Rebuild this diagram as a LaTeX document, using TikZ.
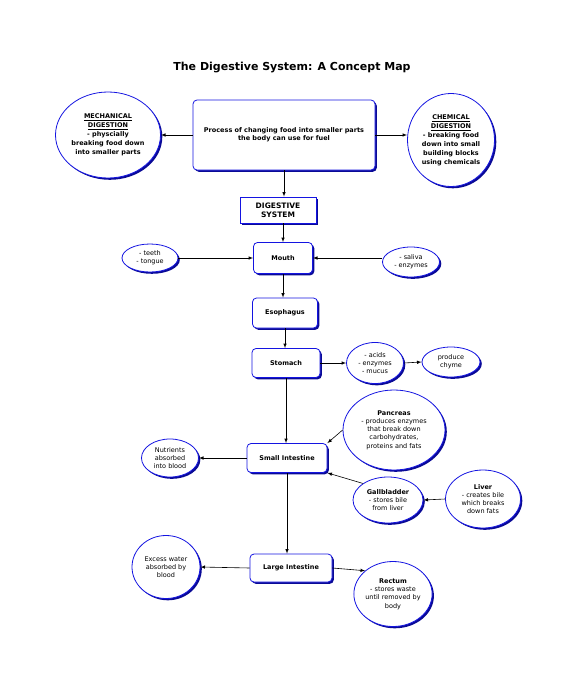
\documentclass[tikz,border=0pt]{standalone}
\usepackage{fontspec}
\setmainfont{DejaVu Sans}
\usetikzlibrary{positioning,shapes.geometric,shadows}

\definecolor{mapblue}{RGB}{20,20,225}
\definecolor{mapshade}{RGB}{10,10,150}

\tikzset{
  mapshadow/.style={drop shadow={shadow xshift=1.8pt, shadow yshift=-1.8pt, fill=mapshade, opacity=1}},
  mapbox/.style={draw=mapblue, line width=0.8pt, fill=white, rounded corners=4pt, mapshadow,
    align=center, font=\fontsize{6.5}{8}\selectfont\bfseries},
  mapoval/.style={ellipse, draw=mapblue, line width=0.8pt, fill=white, mapshadow, inner sep=0pt,
    align=center, font=\fontsize{6.5}{8.2}\selectfont},
  link/.style={-latex, line width=0.6pt, black},
}

\begin{document}
\begin{tikzpicture}[x=1pt, y=-1pt]
  \useasboundingbox (0,0) rectangle (585,685);

  \node[font=\fontsize{11}{13}\selectfont\bfseries] (title) at (292,68) {The Digestive System: A Concept Map};

  % top level
  \node[mapbox, minimum width=182pt, minimum height=70pt] (process) at (284,135)
    {Process of changing food into smaller parts\\the body can use for fuel};
  \node[mapoval, font=\fontsize{6.5}{9}\selectfont\bfseries, minimum width=105pt, minimum height=86pt] (mechanical) at (108,135)
    {\underline{MECHANICAL}\\\underline{DIGESTION}\\- physcially\\breaking food down\\into smaller parts};
  \node[mapoval, font=\fontsize{6.5}{9}\selectfont\bfseries, minimum width=87pt, minimum height=93pt] (chemical) at (451,140)
    {\underline{CHEMICAL}\\\underline{DIGESTION}\\- breaking food\\down into small\\building blocks\\using chemicals};
  \node[mapbox, rounded corners=0pt, minimum width=76pt, minimum height=26pt, font=\fontsize{7.5}{9}\selectfont\bfseries] (system) at (278,210)
    {DIGESTIVE\\SYSTEM};

  % organs
  \node[mapbox, minimum width=59pt, minimum height=31pt] (mouth) at (283,258) {Mouth};
  \node[mapbox, minimum width=65pt, minimum height=30pt] (esophagus) at (285,313) {Esophagus};
  \node[mapbox, minimum width=68pt, minimum height=29pt] (stomach) at (286,363) {Stomach};
  \node[mapbox, minimum width=80pt, minimum height=29pt] (small) at (287,458) {Small Intestine};
  \node[mapbox, minimum width=82pt, minimum height=28pt] (large) at (291,568) {Large Intestine};

  % helpers
  \node[mapoval, minimum width=56pt, minimum height=28pt] (teeth) at (150,258) {- teeth\\- tongue};
  \node[mapoval, minimum width=57pt, minimum height=30pt] (saliva) at (411,262) {- saliva\\- enzymes};
  \node[mapoval, minimum width=57pt, minimum height=41pt] (acids) at (375,363) {- acids\\- enzymes\\- mucus};
  \node[mapoval, minimum width=58pt, minimum height=30pt] (chyme) at (451,362) {produce\\chyme};
  \node[mapoval, minimum width=57pt, minimum height=38pt] (nutrients) at (170,458) {Nutrients\\absorbed\\into blood};
  \node[mapoval, minimum width=102pt, minimum height=80pt] (pancreas) at (394,430)
    {\textbf{Pancreas}\\- produces enzymes\\that break down\\carbohydrates,\\proteins and fats};
  \node[mapoval, minimum width=70pt, minimum height=46pt] (gallbladder) at (388,500)
    {\textbf{Gallbladder}\\- stores bile\\from liver};
  \node[mapoval, minimum width=75pt, minimum height=58pt] (liver) at (483,499)
    {\textbf{Liver}\\- creates bile\\which breaks\\down fats};
  \node[mapoval, minimum width=68pt, minimum height=63pt] (water) at (166,567)
    {Excess water\\absorbed by\\blood};
  \node[mapoval, minimum width=77pt, minimum height=65pt] (rectum) at (393,594)
    {\textbf{Rectum}\\- stores waste\\until removed by\\body};

  % connectors
  \draw[link] (process.west) -- (mechanical.east);
  \draw[link] (process.east) -- (chemical.west |- process.east);
  \draw[link] (process.south) -- (process.south |- system.north);
  \draw[link] (system.south -| mouth.north) -- (mouth.north);
  \draw[link] (teeth.east) -- (mouth.west);
  \draw[link] (saliva.west |- mouth.east) -- (mouth.east);
  \draw[link] (mouth.south) -- (esophagus.north -| mouth.south);
  \draw[link] (esophagus.south) -- (stomach.north -| esophagus.south);
  \draw[link] (stomach.east) -- (acids.west);
  \draw[link] (acids.east) -- (chyme.west);
  \draw[link] (stomach.south) -- (small.north -| stomach.south);
  \draw[link] (small.west) -- (nutrients.east);
  \draw[link] (pancreas.west) -- (small.north east);
  \draw[link] (gallbladder.north west) -- (small.south east);
  \draw[link] (liver.west) -- (gallbladder.east);
  \draw[link] (small.south) -- (large.north -| small.south);
  \draw[link] (large.west) -- (water.east);
  \draw[link] (large.east) -- (rectum.north west);
\end{tikzpicture}
\end{document}
